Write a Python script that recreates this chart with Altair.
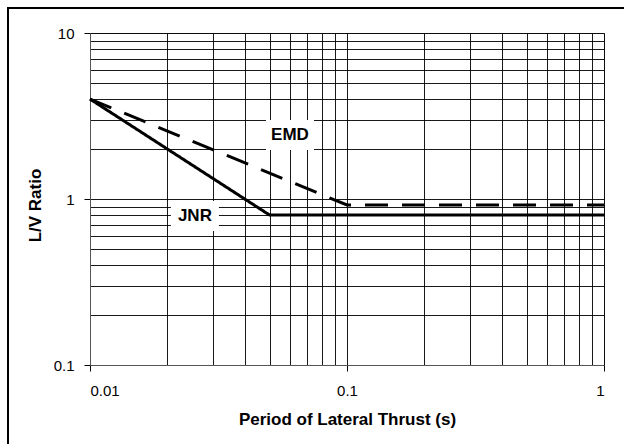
import altair as alt
import pandas as pd

# ---- data ----
x_grid = [0.01, 0.02, 0.03, 0.04, 0.05, 0.06, 0.07, 0.08, 0.09,
          0.1, 0.2, 0.3, 0.4, 0.5, 0.6, 0.7, 0.8, 0.9, 1]
y_grid = [0.1, 0.2, 0.3, 0.4, 0.5, 0.6, 0.7, 0.8, 0.9,
          1, 2, 3, 4, 5, 6, 7, 8, 9, 10]

jnr_x = [0.01, 0.05, 1]
jnr_y = [4, 0.8, 0.8]
emd_x = [0.01, 0.1, 1]
emd_y = [4, 0.92, 0.92]

label_names = ["EMD", "JNR"]
label_x = [0.06, 0.0256]
label_y = [2.43, 0.79]

lines_df = pd.DataFrame({
    "series": ["JNR"] * len(jnr_x) + ["EMD"] * len(emd_x),
    "x": jnr_x + emd_x,
    "y": jnr_y + emd_y,
    "order": list(range(len(jnr_x))) + list(range(len(emd_x))),
})
labels_df = pd.DataFrame({"name": label_names, "x": label_x, "y": label_y})

FONT = "Liberation Sans"
major = "abs(log(datum.value)/LN10 - round(log(datum.value)/LN10)) < 0.001"

x_scale = alt.Scale(type="log", domain=[0.01, 1], nice=False)
y_scale = alt.Scale(type="log", domain=[0.1, 10], nice=False)

x_axis = alt.Axis(
    values=x_grid, title="Period of Lateral Thrust (s)", grid=True,
    labelExpr=f"{major} ? format(datum.value, '~g') : ''",
    tickColor={"condition": {"test": major, "value": "black"}, "value": "transparent"},
    tickSize=6, labelPadding=19, labelOverlap=False, labelBaseline="middle",
    titleX=257, titleY=54, titleBaseline="middle", titleAlign="center",
)
y_axis = alt.Axis(
    values=y_grid, title="L/V Ratio", grid=True,
    labelExpr=f"{major} ? format(datum.value, '~g') : ''",
    tickColor={"condition": {"test": major, "value": "black"}, "value": "transparent"},
    tickSize=6, labelPadding=10, labelOverlap=False,
    titleX=-55, titleY=172, titleBaseline="middle", titleAlign="center", titleAngle=270,
)

frame = alt.Chart(alt.Data(values=[{}])).mark_rect(
    fill="transparent", stroke="black", strokeWidth=2
).encode(
    x=alt.value(-82), x2=alt.value(600), y=alt.value(-25), y2=alt.value(460)
)

lines = alt.Chart(lines_df).mark_line(color="black", strokeWidth=3).encode(
    x=alt.X("x:Q", scale=x_scale, axis=x_axis),
    y=alt.Y("y:Q", scale=y_scale, axis=y_axis),
    strokeDash=alt.StrokeDash("series:N", scale=alt.Scale(domain=["JNR", "EMD"], range=[[1, 0], [23, 14]]), legend=None),
    order="order:Q",
)

boxes = alt.Chart(labels_df).mark_point(
    shape="M-1.6,-1H1.6V1H-1.6Z", filled=True, color="white", opacity=1, strokeWidth=0, size=900
).encode(
    x=alt.X("x:Q", scale=x_scale),
    y=alt.Y("y:Q", scale=y_scale),
)

texts = alt.Chart(labels_df).mark_text(
    font=FONT, fontWeight="bold", fontSize=17, baseline="middle", align="center", color="black"
).encode(
    x=alt.X("x:Q", scale=x_scale),
    y=alt.Y("y:Q", scale=y_scale),
    text="name:N",
)

chart = alt.layer(lines, boxes, texts, frame).properties(
    width=514, height=332,
    padding={"left": 90, "top": 33, "right": 20, "bottom": 79},
    autosize=alt.AutoSizeParams(type="none"),
    background="white",
).configure_view(
    stroke="#808080", strokeWidth=1
).configure_axis(
    gridColor="black", gridWidth=1, gridOpacity=0.9,
    domainColor="#555555", domainWidth=1,
    labelFont=FONT, labelFontSize=15, labelColor="black",
    titleFont=FONT, titleFontSize=17, titleFontWeight="bold", titleColor="black",
)

chart.save("out.html", embed_options={"renderer": "svg", "actions": False})
